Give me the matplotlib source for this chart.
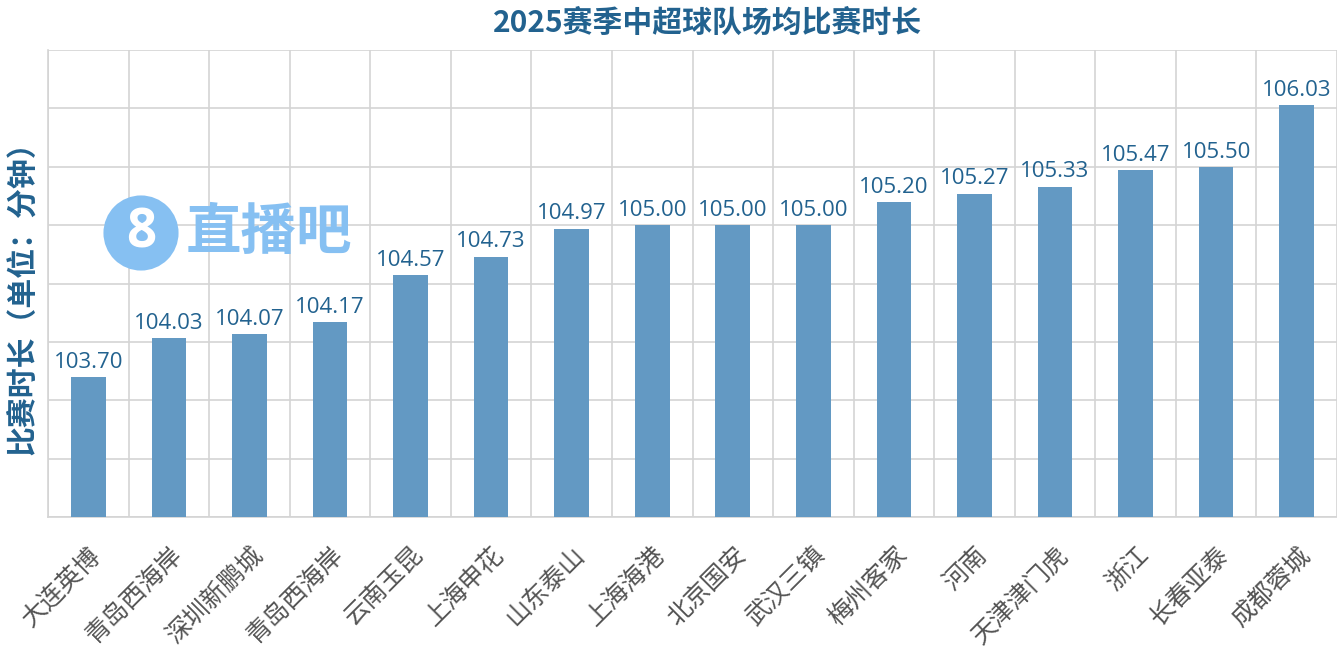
import matplotlib.pyplot as plt
from matplotlib.ticker import MultipleLocator

plt.rcParams['font.family'] = ['Noto Sans CJK SC', 'DejaVu Sans']

# Dane: zespoly i srednia dlugosc meczu (minuty)
teams = ['大连英博', '青岛西海岸', '深圳新鹏城', '青岛西海岸', '云南玉昆', '上海申花',
         '山东泰山', '上海海港', '北京国安', '武汉三镇', '梅州客家', '河南',
         '天津津门虎', '浙江', '长春亚泰', '成都蓉城']
minutes = [103.70, 104.03, 104.07, 104.17, 104.57, 104.73, 104.97, 105.00,
           105.00, 105.00, 105.20, 105.27, 105.33, 105.47, 105.50, 106.03]

title = '2025赛季中超球队场均比赛时长'
ylabel = '比赛时长（单位：分钟）'

bar_color = '#6399c3'
text_blue = '#22628f'
grid_color = '#d4d4d4'


def main():
    fig = plt.figure(figsize=(13.37, 6.6), dpi=100)
    ax = fig.add_axes([48 / 1337, 143 / 660, 1 - 48 / 1337, 467 / 660])

    x = range(len(teams))
    ax.bar(x, minutes, width=0.43, color=bar_color, zorder=3)

    for xi, v in zip(x, minutes):
        ax.annotate(f'{v:.2f}', (xi, v), xytext=(0, 3), textcoords='offset points',
                    ha='center', va='bottom', fontsize=16, color=text_blue,
                    family=['Open Sans', 'DejaVu Sans'], zorder=4)

    # Os Y bez opisow, siatka co 0.5
    ax.set_ylim(102.5, 106.5)
    ax.yaxis.set_major_locator(MultipleLocator(0.5))
    ax.tick_params(axis='y', length=0, labelleft=False)

    # Os X: etykiety w srodku, siatka na granicach kategorii
    ax.set_xlim(-0.5, len(teams) - 0.5)
    ax.set_xticks(list(x))
    ax.set_xticks([i - 0.5 for i in range(len(teams) + 1)], minor=True)
    ax.set_xticklabels(teams, rotation=45, ha='right', rotation_mode='anchor',
                       fontsize=18, color='#555555', fontweight='light')
    ax.tick_params(axis='x', which='both', length=0, pad=18)

    ax.grid(True, axis='y', which='major', color=grid_color, linewidth=1.2, zorder=0)
    ax.grid(True, axis='x', which='minor', color=grid_color, linewidth=1.2, zorder=0)

    for side in ['top', 'right']:
        ax.spines[side].set_visible(False)
    for side in ['left', 'bottom']:
        ax.spines[side].set_color(grid_color)
        ax.spines[side].set_linewidth(1.2)

    fig.text(0.529, 1 - 23 / 660, title, ha='center', va='center', fontsize=21.5,
             fontweight='bold', color=text_blue)
    fig.text(22 / 1337, 1 - 291 / 660, ylabel, ha='center', va='center', rotation=90,
             fontsize=21.5, fontweight='bold', color=text_blue)

    # Znak wodny
    wm = '#86c0f2'
    fig.text(141 / 1337, 1 - 233 / 660, '8', ha='center', va='center', fontsize=38,
             fontweight='bold', color='white', family=['Open Sans', 'DejaVu Sans'],
             bbox=dict(boxstyle='circle,pad=0.2', fc=wm, ec='none'), zorder=5)
    fig.text(269 / 1337, 1 - 233 / 660, '直播吧', ha='center', va='center', fontsize=40,
             fontweight='bold', color=wm, zorder=5)

    fig.savefig('out.png', dpi=100)


if __name__ == '__main__':
    main()
